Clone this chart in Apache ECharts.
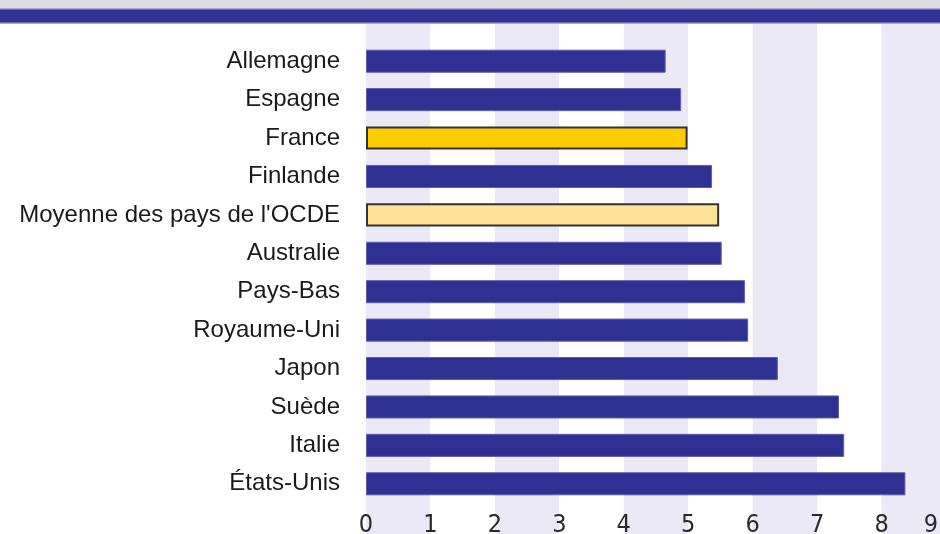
<!DOCTYPE html>
<html>
<head>
<meta charset="utf-8">
<script src="https://cdn.jsdelivr.net/npm/echarts@6/dist/echarts.min.js"></script>
<style>
  html, body { margin: 0; padding: 0; background: #fff; overflow: hidden; }
  /* l'axe va jusqu'a 9, un peu au-dela du bord droit de la fenetre */
  #chartmain { width: 946px; height: 534px; }
</style>
</head>
<body>
<div id="chartmain"></div>
<script>
var pays = ['Allemagne', 'Espagne', 'France', 'Finlande', "Moyenne des pays de l'OCDE",
  'Australie', 'Pays-Bas', 'Royaume-Uni', 'Japon', 'Suède', 'Italie', 'États-Unis'];
var valeurs = [4.65, 4.89, 4.99, 5.37, 5.48, 5.52, 5.88, 5.93, 6.39, 7.34, 7.42, 8.37];
var ticks = [0, 1, 2, 3, 4, 5, 6, 7, 8, 9];

var bleu = '#2e3192';
var couleurs = {
  'France': '#ffcc00',
  "Moyenne des pays de l'OCDE": '#ffe298'
};

var barres = [];
for (var i = 0; i < pays.length; i++) {
  var c = couleurs[pays[i]];
  barres.push({
    value: valeurs[i],
    itemStyle: c ? { color: c, borderColor: '#333', borderWidth: 2 }
                 : { color: bleu, borderColor: '#5b5dad', borderWidth: 1 }
  });
}

var chiffres = 'Liberation Sans Narrow, DejaVu Sans Condensed, sans-serif';

var option = {
  animation: false,
  graphic: [
    { type: 'rect', shape: { x: 0, y: 0, width: 946, height: 8 }, style: { fill: '#dcdde0' }, z: 10 },
    { type: 'rect', shape: { x: 0, y: 8, width: 946, height: 16 }, style: { fill: '#a7a6d2' }, z: 10 },
    { type: 'rect', shape: { x: 0, y: 9.5, width: 946, height: 13 }, style: { fill: bleu }, z: 11 }
  ],
  grid: [
    { left: 366, right: 0, top: 24, bottom: 0, outerBoundsMode: 'none' },
    { left: 366, right: 0, top: 42, bottom: 31, outerBoundsMode: 'none' }
  ],
  xAxis: [
    {
      gridIndex: 0, type: 'value', min: 0, max: 9, interval: 1,
      axisLine: { show: false }, axisTick: { show: false }, axisLabel: { show: false },
      splitLine: { show: false },
      splitArea: { show: true, areaStyle: { color: ['#ebe9f5', '#ffffff'] } }
    },
    {
      gridIndex: 1, type: 'value', min: 0, max: 9, interval: 1,
      axisLine: { show: false }, axisTick: { show: false }, splitLine: { show: false },
      axisLabel: {
        margin: 10, color: '#2a2a2a', fontSize: 25, fontFamily: chiffres,
        alignMaxLabel: 'right',
        formatter: function (v) {
          if (ticks.indexOf(v) < 0) return '';
          // le dernier chiffre est coupe par le bord, on le rapproche un peu
          return v === ticks[ticks.length - 1] ? '{fin|' + v + '}' : String(v);
        },
        rich: {
          fin: { fontSize: 25, fontFamily: chiffres, color: '#2a2a2a', padding: [0, 8, 0, 0] }
        }
      }
    }
  ],
  yAxis: [
    { gridIndex: 0, type: 'value', show: false },
    {
      gridIndex: 1, type: 'category', data: pays, inverse: true,
      axisLine: { show: false }, axisTick: { show: false },
      axisLabel: { margin: 26, color: '#1a1a1a', fontSize: 24, fontFamily: 'Liberation Sans, Arial, sans-serif' }
    }
  ],
  series: [
    {
      type: 'bar', xAxisIndex: 1, yAxisIndex: 1,
      barCategoryGap: '40%',
      data: barres
    }
  ]
};

var myChart = echarts.init(document.getElementById('chartmain'));
myChart.setOption(option);
</script>
</body>
</html>
